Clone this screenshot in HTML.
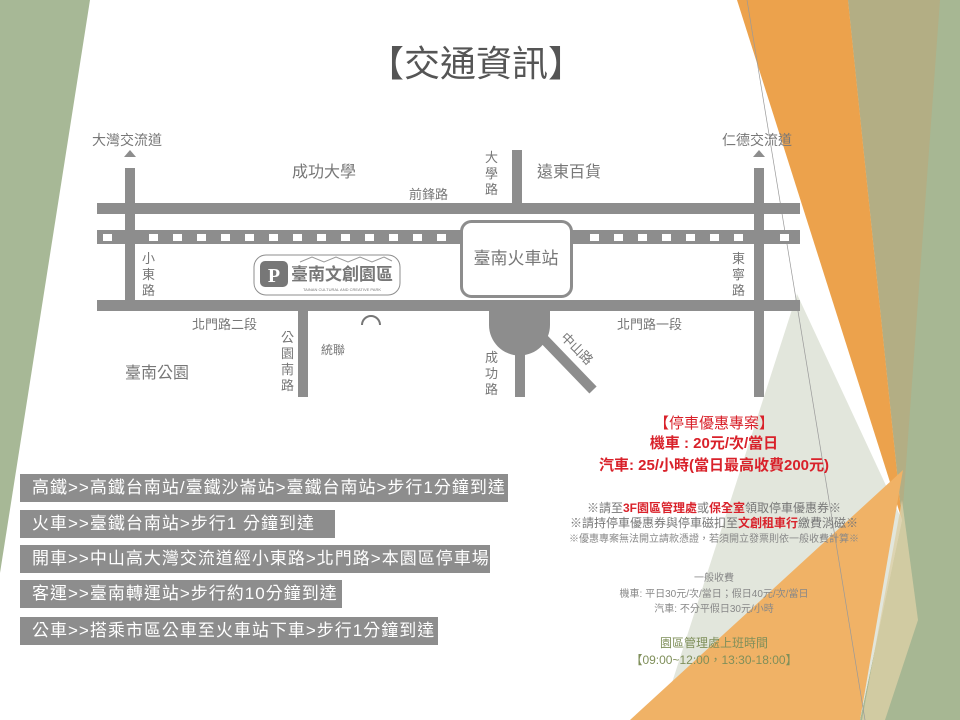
<!DOCTYPE html>
<html><head><meta charset="utf-8"><style>
body{margin:0;width:960px;height:720px;overflow:hidden;background:#fff;font-family:"Liberation Sans","Noto Sans CJK TC",sans-serif}
svg{position:absolute;left:0;top:0}
.b{position:absolute;left:20px;height:28px;background:#8d8d8d;color:#fff;font-size:17px;line-height:28px;padding-left:12px;letter-spacing:1px;box-sizing:border-box}
</style></head><body>
<svg width="960" height="720" xmlns="http://www.w3.org/2000/svg" font-family="Liberation Sans, Noto Sans CJK TC, sans-serif">
<!-- background shapes -->
<polygon points="0,0 90,0 0,573" fill="#a7b896"/>
<polygon points="848,0 960,0 960,720 860,720 902,520" fill="#a7b793"/>
<polygon points="848,0 940,0 902,520" fill="#b3ae84"/>
<polygon points="797,294 902,520 860,720 660,720" fill="#e2e6dc"/>
<polygon points="737,0 848,0 902,520" fill="#eca24c"/>
<polygon points="630,720 903,470 860,720" fill="#f0b266"/>
<polygon points="902,500 918,620 885,720 862,720" fill="#dccfa6" opacity="0.8"/>
<line x1="747" y1="0" x2="865" y2="720" stroke="#999" stroke-width="0.7"/>
<!-- title -->
<text x="476" y="76" font-size="36" fill="#555" text-anchor="middle">【交通資訊】</text>
<!-- roads -->
<g fill="#8d8d8d">
<rect x="97" y="203" width="703" height="11"/>
<rect x="97" y="230" width="703" height="14"/>
<rect x="97" y="300" width="703" height="11"/>
<rect x="125" y="168" width="10" height="133"/>
<rect x="512" y="150" width="10" height="53"/>
<rect x="754" y="168" width="10" height="229"/>
<rect x="298" y="311" width="10" height="86"/>
<rect x="515" y="330" width="10" height="67"/>
<path d="M489,305 H550 V325 A30,30 0 0 1 489,325 Z"/>
<line x1="540" y1="335" x2="593" y2="390" stroke="#8d8d8d" stroke-width="10"/>
<polygon points="130,150 124,157 136,157"/>
<polygon points="759,150 753,157 765,157"/>
</g>
<g fill="#fff">
<rect x="103" y="234" width="9" height="7"/>
<rect x="149" y="234" width="9" height="7"/><rect x="173" y="234" width="9" height="7"/><rect x="197" y="234" width="9" height="7"/><rect x="221" y="234" width="9" height="7"/><rect x="245" y="234" width="9" height="7"/><rect x="269" y="234" width="9" height="7"/><rect x="293" y="234" width="9" height="7"/><rect x="317" y="234" width="9" height="7"/><rect x="341" y="234" width="9" height="7"/><rect x="365" y="234" width="9" height="7"/><rect x="389" y="234" width="9" height="7"/><rect x="413" y="234" width="9" height="7"/><rect x="437" y="234" width="9" height="7"/>
<rect x="590" y="234" width="9" height="7"/><rect x="614" y="234" width="9" height="7"/><rect x="638" y="234" width="9" height="7"/><rect x="662" y="234" width="9" height="7"/><rect x="686" y="234" width="9" height="7"/><rect x="710" y="234" width="9" height="7"/><rect x="734" y="234" width="9" height="7"/><rect x="780" y="234" width="9" height="7"/>
</g>
<rect x="461.5" y="221.5" width="110" height="75" rx="10" fill="#fff" stroke="#8d8d8d" stroke-width="3"/>
<text x="516" y="264" font-size="17" fill="#777" text-anchor="middle">臺南火車站</text>
<!-- park logo -->
<rect x="254" y="255" width="146" height="40" rx="12" fill="#fff" stroke="#8d8d8d" stroke-width="1"/>
<rect x="260" y="261" width="28" height="26" rx="5" fill="#777"/>
<text x="274" y="282" font-size="20" fill="#fff" text-anchor="middle" font-family="Liberation Serif,serif" font-weight="bold">P</text>
<text x="342" y="280" font-size="17" fill="#777" text-anchor="middle" font-weight="bold">臺南文創園區</text>
<text x="342" y="291" font-size="4" fill="#777" text-anchor="middle">TAINAN CULTURAL AND CREATIVE PARK</text>
<path d="M300,262 l12,-5 12,5 12,-5 12,5 12,-5 12,5 12,-5 8,4" fill="none" stroke="#999" stroke-width="1"/>
<!-- labels -->
<g fill="#777" font-size="14">
<text x="92" y="145">大灣交流道</text>
<text x="722" y="145">仁德交流道</text>
<text x="292" y="177" font-size="16">成功大學</text>
<text x="537" y="177" font-size="16">遠東百貨</text>
<text x="409" y="199" font-size="13">前鋒路</text>
<text x="485" y="162" font-size="13">大</text><text x="485" y="178" font-size="13">學</text><text x="485" y="194" font-size="13">路</text>
<text x="142" y="263" font-size="13">小</text><text x="142" y="279" font-size="13">東</text><text x="142" y="295" font-size="13">路</text>
<text x="732" y="263" font-size="13">東</text><text x="732" y="279" font-size="13">寧</text><text x="732" y="295" font-size="13">路</text>
<text x="192" y="329" font-size="13">北門路二段</text>
<text x="617" y="329" font-size="13">北門路一段</text>
<text x="281" y="342" font-size="13">公</text><text x="281" y="358" font-size="13">園</text><text x="281" y="374" font-size="13">南</text><text x="281" y="390" font-size="13">路</text>
<text x="321" y="354" font-size="12">統聯</text>
<text x="485" y="362" font-size="13">成</text><text x="485" y="378" font-size="13">功</text><text x="485" y="394" font-size="13">路</text>
<text x="125" y="378" font-size="16">臺南公園</text>
<text x="560" y="338" font-size="13" transform="rotate(45 560 338)">中山路</text>
</g>
<path d="M362,325 a9,9 0 0 1 18,0" fill="none" stroke="#777" stroke-width="2"/>
<!-- parking info -->
<g text-anchor="middle">
<text x="714" y="428" font-size="15" fill="#d9212a">【停車優惠專案】</text>
<text x="714" y="448" font-size="15" fill="#d9212a" font-weight="bold">機車 : 20元/次/當日</text>
<text x="714" y="470" font-size="15" fill="#d9212a" font-weight="bold">汽車: 25/小時(當日最高收費200元)</text>
<text x="714" y="512" font-size="12" fill="#777">※請至<tspan fill="#d9212a" font-weight="bold">3F園區管理處</tspan>或<tspan fill="#d9212a" font-weight="bold">保全室</tspan>領取停車優惠券※</text>
<text x="714" y="527" font-size="12" fill="#777">※請持停車優惠券與停車磁扣至<tspan fill="#d9212a" font-weight="bold">文創租車行</tspan>繳費消磁※</text>
<text x="714" y="542" font-size="10" fill="#888">※優惠專案無法開立請款憑證，若須開立發票則依一般收費計算※</text>
<text x="714" y="581" font-size="10" fill="#888">一般收費</text>
<text x="714" y="597" font-size="10" fill="#888">機車: 平日30元/次/當日；假日40元/次/當日</text>
<text x="714" y="612" font-size="10" fill="#888">汽車: 不分平假日30元/小時</text>
<text x="714" y="647" font-size="12" fill="#7f8f5a">園區管理處上班時間</text>
<text x="714" y="664" font-size="12" fill="#7f8f5a">【09:00~12:00，13:30-18:00】</text>
</g>
</svg>
<div class="b" style="top:474px;width:488px">高鐵&gt;&gt;高鐵台南站/臺鐵沙崙站&gt;臺鐵台南站&gt;步行1分鐘到達</div>
<div class="b" style="top:510px;width:315px">火車&gt;&gt;臺鐵台南站&gt;步行1 分鐘到達</div>
<div class="b" style="top:545px;width:470px">開車&gt;&gt;中山高大灣交流道經小東路&gt;北門路&gt;本園區停車場</div>
<div class="b" style="top:580px;width:322px">客運&gt;&gt;臺南轉運站&gt;步行約10分鐘到達</div>
<div class="b" style="top:617px;width:418px">公車&gt;&gt;搭乘市區公車至火車站下車&gt;步行1分鐘到達</div>
</body></html>
